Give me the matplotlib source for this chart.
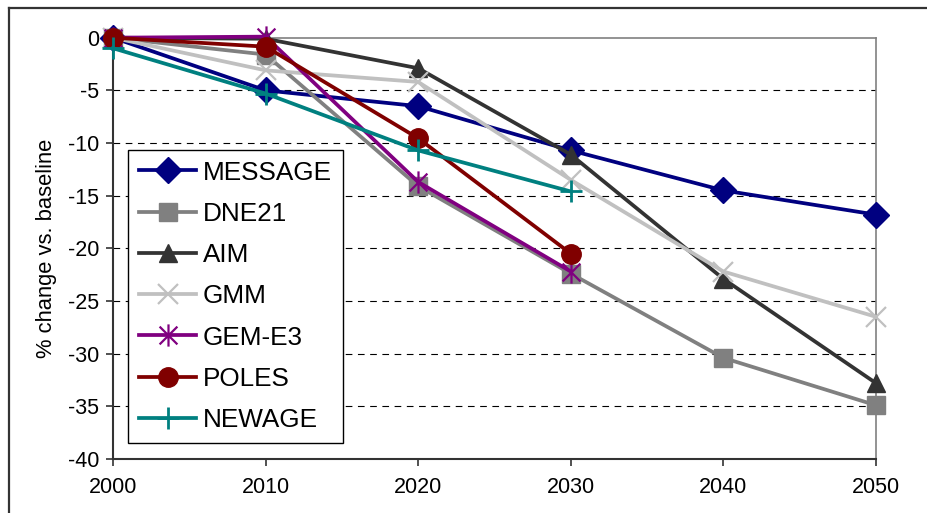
import matplotlib
matplotlib.use("Agg")
import matplotlib.pyplot as plt
from matplotlib.path import Path
from matplotlib.lines import Line2D

plt.rcParams['font.family'] = ['Liberation Sans', 'DejaVu Sans']
plt.rcParams['axes.unicode_minus'] = False

years = [2000, 2010, 2020, 2030, 2040, 2050]
years_short = [2000, 2010, 2020, 2030]

message = [0, -5.0, -6.5, -10.7, -14.5, -16.8]
dne21 = [0, -1.6, -14.1, -22.4, -30.4, -34.9]
aim = [0, -0.1, -2.9, -11.1, -22.9, -32.8]
gmm = [0, -3.1, -4.2, -13.5, -22.2, -26.5]
gem_e3 = [0, 0.1, -13.7, -22.2]
poles = [0, -0.85, -9.55, -20.5]
newage = [-1.0, -5.3, -10.7, -14.6]

yticks = [0, -5, -10, -15, -20, -25, -30, -35, -40]

# excel style star: x with a vertical bar
star = Path([(-1, -1), (1, 1), (-1, 1), (1, -1), (0, -1.25), (0, 1.25)],
            [Path.MOVETO, Path.LINETO, Path.MOVETO, Path.LINETO, Path.MOVETO, Path.LINETO])

fig = plt.figure(figsize=(9.27, 5.13), dpi=100)
ax = fig.add_axes([113 / 927, 1 - 459 / 513, 763 / 927, 421.3 / 513])

series = [
    ("MESSAGE", years, message, dict(color="#000080", marker="D", markersize=13)),
    ("DNE21", years, dne21, dict(color="#808080", marker="s", markersize=13.5)),
    ("AIM", years, aim, dict(color="#333333", marker="^", markersize=12.5)),
    ("GMM", years, gmm, dict(color="#C0C0C0", marker="x", markersize=15, markeredgewidth=1.6)),
    ("GEM-E3", years_short, gem_e3, dict(color="#800080", marker=star, markersize=16, markeredgewidth=1.6)),
    ("POLES", years_short, poles, dict(color="#800000", marker="o", markersize=14)),
    ("NEWAGE", years_short, newage, dict(color="#008080", marker="+", markersize=16, markeredgewidth=2)),
]

for name, xs, ys, style in series:
    ax.plot(xs, ys, label=name, linewidth=2.7, clip_on=False, zorder=3, **style)

ax.set_xlim(2000, 2050)
ax.set_ylim(-40, 0)
ax.set_xticks(years)
ax.set_yticks(yticks)
for y in yticks[1:-1]:
    ax.axhline(y, color="black", linewidth=0.8, linestyle=(0, (6, 5)), zorder=1)

ax.tick_params(labelsize=15.5, length=5, width=1.2, color="#333333", pad=5)
ax.tick_params(axis="x", pad=8)
for s in ["left", "bottom"]:
    ax.spines[s].set_color("#333333")
    ax.spines[s].set_linewidth(1.5)
for s in ["top", "right"]:
    ax.spines[s].set_color("#808080")
    ax.spines[s].set_linewidth(1.2)

ax.set_ylabel("% change vs. baseline", fontsize=15.8, labelpad=8)

leg = ax.legend(loc="lower left", bbox_to_anchor=(0.0197, 0.038), fontsize=18.8,
                frameon=True, fancybox=False, edgecolor="black", framealpha=1,
                handlelength=2.2, handletextpad=0.25, labelspacing=0.66,
                borderpad=0.42, borderaxespad=0)
leg.get_frame().set_linewidth(1.0)

# outer chart frame (cut off at right and bottom)
fig.add_artist(Line2D([9 / 927, 9 / 927], [0, 1 - 8 / 513], color="#333333", linewidth=1.6))
fig.add_artist(Line2D([9 / 927, 1], [1 - 8 / 513, 1 - 8 / 513], color="#333333", linewidth=1.6))

fig.savefig("out.png", dpi=100)
